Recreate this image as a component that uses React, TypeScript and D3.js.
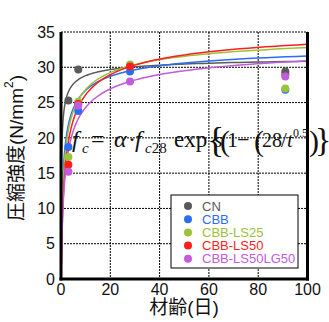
import React from "react";
import * as d3 from "d3";

// ---- data ----
const seriesNames = ["CN", "CBB", "CBB-LS25", "CBB-LS50", "CBB-LS50LG50"];
const seriesColors = ["#5a5a5a", "#2b6cf5", "#9cc23a", "#ff1e1e", "#c25bdc"];
const ages = [3, 7, 28, 91];
const cnValues: (number | null)[] = [25.3, 29.7, null, 29.4];
const cbbValues: (number | null)[] = [18.7, 23.8, 29.4, 26.8];
const ls25Values: (number | null)[] = [17.3, 25.1, 30.4, 27.0];
const ls50Values: (number | null)[] = [16.2, 24.8, 30.1, 29.0];
const lg50Values: (number | null)[] = [15.2, 24.6, 28.0, 28.7];
// fitted model parameters: f_c = (α·f_c28) · exp{ s (1 − (28/t)^0.5) }
const alphaFc28 = [30.0, 29.5, 30.2, 30.1, 28.0];
const sCoef = [0.06, 0.146, 0.175, 0.212, 0.21];
const xTicks = [0, 20, 40, 60, 80, 100];
const yTicks = [0, 5, 10, 15, 20, 25, 30, 35];

const allValues = [cnValues, cbbValues, ls25Values, ls50Values, lg50Values];
const pointOrder = [1, 2, 3, 0, 4];

export default function App() {
  const W = 329, H = 322;
  const x = d3.scaleLinear().domain([0, 100]).range([61, 307.5]);
  const y = d3.scaleLinear().domain([0, 35]).range([279, 32]);
  const [x0, x1] = x.range();
  const [y0, y1] = y.range();

  const tSamples = d3.range(0, 301).map((i) => Math.pow(10, -4 + (i / 300) * 6));
  const line = d3
    .line<number[]>()
    .x((d) => x(d[0]))
    .y((d) => y(d[1]));

  const sans = "'Liberation Sans', Arial, sans-serif";
  const cjk = "'Liberation Sans', 'Noto Sans CJK JP', sans-serif";
  const serif = "'Liberation Serif', 'Times New Roman', serif";

  return (
    <svg
      width={W}
      height={H}
      style={{ position: "absolute", left: 0, top: 0, background: "#fff" }}
    >
      <defs>
        <clipPath id="plotclip">
          <rect x={x0} y={y1} width={x1 - x0} height={y0 - y1} />
        </clipPath>
      </defs>
      {/* grid */}
      {yTicks.filter((v) => v > 0).map((v) => (
        <line key={"gy" + v} x1={x0} x2={x1} y1={y(v)} y2={y(v)} stroke="#000" strokeWidth={1} strokeDasharray="2,1" />
      ))}
      {xTicks.filter((v) => v > 0 && v < 100).map((v) => (
        <line key={"gx" + v} x1={x(v)} x2={x(v)} y1={y1} y2={y0} stroke="#000" strokeWidth={1} strokeDasharray="2,1" />
      ))}
      {/* curves */}
      <g clipPath="url(#plotclip)">
        {seriesNames.map((n, i) => {
          const pts = tSamples.map((t) => [t, alphaFc28[i] * Math.exp(sCoef[i] * (1 - Math.sqrt(28 / t)))]);
          return <path key={"c" + n} d={line(pts) || ""} fill="none" stroke={seriesColors[i]} strokeWidth={1.5} />;
        })}
      </g>
      {/* points */}
      {pointOrder.map((i) => (
        <g key={"p" + i}>
          {ages.map((a, j) =>
            allValues[i][j] == null ? null : (
              <circle key={j} cx={x(a)} cy={y(allValues[i][j] as number)} r={4} fill={seriesColors[i]} />
            )
          )}
        </g>
      ))}
      {/* axes frame */}
      <line x1={x0} x2={x0} y1={y1} y2={y0 + 1.5} stroke="#000" strokeWidth={3} />
      <line x1={x1} x2={x1} y1={y1} y2={y0 + 1.5} stroke="#000" strokeWidth={3} />
      <line x1={x0 - 1.5} x2={x1 + 1.5} y1={y0} y2={y0} stroke="#000" strokeWidth={3} />
      {/* tick labels */}
      {yTicks.map((v) => (
        <text key={"yt" + v} x={55} y={y(v)} dy="0.36em" textAnchor="end" fontFamily={sans} fontSize={16} fill="#111">
          {v}
        </text>
      ))}
      {xTicks.map((v) => (
        <text key={"xt" + v} x={x(v)} y={295} textAnchor="middle" fontFamily={sans} fontSize={16} fill="#111">
          {v}
        </text>
      ))}
      {/* axis titles */}
      <text x={184} y={314} textAnchor="middle" fontFamily={cjk} fontSize={19} fill="#111">
        材齢(日)
      </text>
      <text
        transform={`translate(16,148) rotate(-90)`}
        textAnchor="middle"
        dominantBaseline="central"
        fontFamily={cjk}
        fontSize={19}
        fill="#111"
      >
        圧縮強度(N/mm<tspan dy="-7" fontSize={12}>2</tspan><tspan dy="7">)</tspan>
      </text>
      {/* formula, one text element */}
      <text fontFamily={serif} fill="#111" fontSize={23} y={147}>
        <tspan x={72} y={147} fontSize={24} fontStyle="italic">f</tspan>
        <tspan x={82} y={153} fontSize={15} fontStyle="italic">c</tspan>
        <tspan x={91} y={147} fontSize={24}>=</tspan>
        <tspan x={114} y={147} fontSize={24} fontStyle="italic">α</tspan>
        <tspan x={128} y={147} fontSize={24}>·</tspan>
        <tspan x={135} y={147} fontSize={24} fontStyle="italic">f</tspan>
        <tspan x={145} y={153} fontSize={15} fontStyle="italic">c</tspan>
        <tspan y={153} fontSize={15}>28</tspan>
        <tspan x={174} y={147}>exp</tspan>
        <tspan x={207} y={152} fontSize={36}>{"{"}</tspan>
        <tspan x={214} y={147} fontSize={22} fontStyle="italic">s</tspan>
        <tspan x={220} y={151} fontSize={30}>(</tspan>
        <tspan x={227} y={147} fontSize={22}>1</tspan>
        <tspan x={237} y={147} fontSize={22}>−</tspan>
        <tspan x={254} y={151} fontSize={30}>(</tspan>
        <tspan x={262} y={147} fontSize={20}>28</tspan>
        <tspan x={281} y={147} fontSize={21}>/</tspan>
        <tspan x={287} y={147} fontSize={21} fontStyle="italic">t</tspan>
        <tspan x={293} y={137} fontSize={12}>0.5</tspan>
        <tspan x={309} y={151} fontSize={30}>)</tspan>
        <tspan x={315} y={151} fontSize={34}>{"}"}</tspan>
      </text>
      {/* legend */}
      <rect x={171} y={195} width={127} height={73} fill="#fff" stroke="#000" strokeWidth={1} />
      {seriesNames.map((n, i) => (
        <g key={"l" + n}>
          <circle cx={188} cy={206 + i * 13.2} r={4} fill={seriesColors[i]} />
          <text x={202} y={206 + i * 13.2} dy="0.36em" fontFamily={sans} fontSize={13} fill={seriesColors[i]}>
            {n}
          </text>
        </g>
      ))}
    </svg>
  );
}
